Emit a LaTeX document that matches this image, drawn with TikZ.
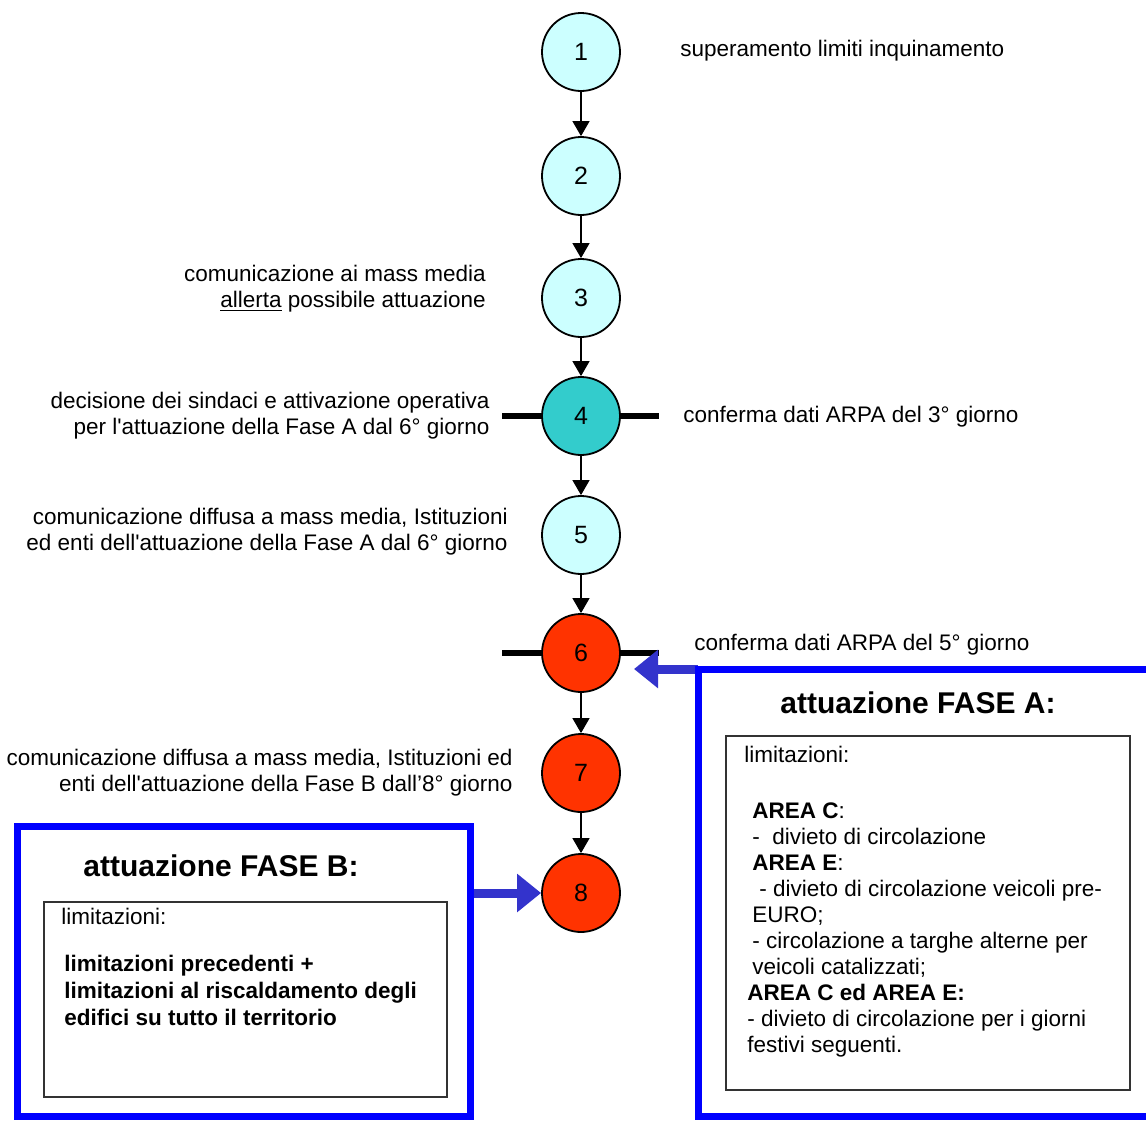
\documentclass[tikz,border=0pt]{standalone}
\usepackage{fontspec}
\setmainfont{Liberation Sans}
\usetikzlibrary{arrows.meta}
\definecolor{paleblue}{HTML}{CCFFFF}
\definecolor{tealstep}{HTML}{33CCCC}
\definecolor{redstep}{HTML}{FF3300}
\definecolor{boxblue}{HTML}{0000FF}
\definecolor{arrowblue}{HTML}{3333CC}
\begin{document}
\begin{tikzpicture}[x=0.5pt, y=-0.5pt,
	txt/.style={inner sep=0pt, font=\fontsize{11.25}{13}\selectfont},
	stepnode/.style={circle, draw=black, line width=0.9pt, minimum size=39pt, inner sep=0pt, font=\fontsize{12.5}{14}\selectfont},
	flow/.style={line width=0.6pt, -{Triangle[length=7.5pt, width=8.5pt]}},
	bar/.style={line width=3pt},
	bluebox/.style={draw=boxblue, line width=3.5pt},
	listbox/.style={draw=black!80, line width=0.6pt},
	bigarrow/.style={draw=arrowblue, line width=4.5pt, -{Triangle[length=12pt, width=18.5pt]}},
	title/.style={inner sep=0pt, font=\fontsize{15}{18}\bfseries}]
			\useasboundingbox (0,0) rectangle (1146,1120);

			\node[stepnode, fill=paleblue] (n1) at (581, 52) {1};
			\node[stepnode, fill=paleblue] (n2) at (581,176) {2};
			\node[stepnode, fill=paleblue] (n3) at (581,298) {3};
			\node[stepnode, fill=tealstep] (n4) at (581,416) {4};
			\node[stepnode, fill=paleblue] (n5) at (581,535) {5};
			\node[stepnode, fill=redstep ] (n6) at (581,653) {6};
			\node[stepnode, fill=redstep ] (n7) at (581,773) {7};
			\node[stepnode, fill=redstep ] (n8) at (581,893) {8};

			\draw[bar] (n4.west) -- ++(-39,0);
			\draw[bar] (n4.east) -- ++( 38,0);
			\draw[bar] (n6.west) -- ++(-39,0);
			\draw[bar] (n6.east) -- ++( 38,0);

			\draw[flow] (n1) -- (n2);
			\draw[flow] (n2) -- (n3);
			\draw[flow] (n3) -- (n4);
			\draw[flow] (n4) -- (n5);
			\draw[flow] (n5) -- (n6);
			\draw[flow] (n6) -- (n7);
			\draw[flow] (n7) -- (n8);

			\node[txt, anchor=west] (t1) at (680,51) {superamento limiti inquinamento};
			\node[txt, anchor=east, align=right] (t3) at (486,289) {comunicazione ai mass media\\\underline{allerta} possibile attuazione};
			\node[txt, anchor=east, align=right] (t4) at (490,416) {decisione dei sindaci e attivazione operativa\\per l\textquotesingle attuazione della Fase A dal 6° giorno};
			\node[txt, anchor=west] (t4r) at (683,417) {conferma dati ARPA del 3° giorno};
			\node[txt, anchor=east, align=right] (t5) at (508,532) {comunicazione diffusa a mass media, Istituzioni\\ed enti dell\textquotesingle attuazione della Fase A dal 6° giorno};
			\node[txt, anchor=west] (t6r) at (694,645) {conferma dati ARPA del 5° giorno};
			\node[txt, anchor=east, align=right] (t7) at (513,773) {comunicazione diffusa a mass media, Istituzioni ed\\enti dell\textquotesingle attuazione della Fase B dall’8° giorno};

			\coordinate (acorner) at (698,669);
			\coordinate (tip6) at (634,669);
			\draw[bigarrow] (acorner) -- (tip6);
			\draw[bluebox] (1150,669) -- (acorner) -- (698,1116) -- (1150,1116);
			\node[title] (titleA) at (918,703) {attuazione FASE A:};
			\node[listbox, minimum width=202pt, minimum height=177pt] (listA) at (928,913) {};
			\node[txt, anchor=west] (limA) at (744,754) {limitazioni:};
			\node[txt, anchor=west, align=left] (areaA) at (747,930) {\hspace*{2.5pt}\textbf{AREA C}:\\
				\hspace*{2.5pt}-\ \ divieto di circolazione\\
				\hspace*{2.5pt}\textbf{AREA E}:\\
				\hspace*{6pt}- divieto di circolazione veicoli pre-\\
				\hspace*{2.5pt}EURO;\\
				\hspace*{2.5pt}- circolazione a targhe alterne per\\
				\hspace*{2.5pt}veicoli catalizzati;\\
				\textbf{AREA C ed AREA E:}\\
				- divieto di circolazione per i giorni\\
				festivi seguenti.};

			\node[bluebox, minimum width=226.5pt, minimum height=145pt] (faseB) at (243.5,971) {};
			\node[title] (titleB) at (221,866) {attuazione FASE B:};
			\node[listbox, minimum width=201.5pt, minimum height=97.5pt] (listB) at (245.5,999.5) {};
			\node[txt, anchor=west] (limB) at (61,916) {limitazioni:};
			\node[txt, anchor=west, align=left, font=\fontsize{11.25}{13.5}\bfseries] (boldB) at (64,990) {limitazioni precedenti +\\limitazioni al riscaldamento degli\\edifici su tutto il territorio};
			\draw[bigarrow] (faseB.east |- n8) -- (n8.west);
		\end{tikzpicture}
\end{document}
